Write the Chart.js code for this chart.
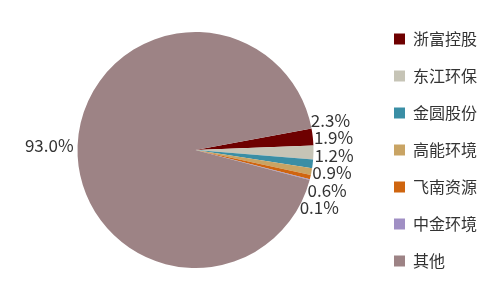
<!DOCTYPE html>
<html>
<head>
<meta charset="utf-8">
<script src="https://cdn.jsdelivr.net/npm/chart.js@4"></script>
<style>
  html, body { margin: 0; padding: 0; background: #fff; }
  #wrap { width: 500px; height: 300px; }
</style>
</head>
<body>
<div id="wrap"><canvas id="chartPie"></canvas></div>
<script>
// dados
const empresas = ['浙富控股', '东江环保', '金圆股份', '高能环境', '飞南资源', '中金环境', '其他'];
const participacao = [2.3, 1.9, 1.2, 0.9, 0.6, 0.1, 93.0];
const cores = ['#6e0000', '#c6c4b6', '#3a8ea5', '#c9a464', '#cf650f', '#a08fc4', '#9d8385'];

const FONTE = '"Noto Sans CJK SC", "Noto Sans", sans-serif';

// rótulos externos, encostados no círculo
const rotulosPlugin = {
    id: 'rotulos',
    afterDatasetsDraw(chart) {
        const ctx = chart.ctx;
        const arcs = chart.getDatasetMeta(0).data;
        const dir = [], esq = [];
        arcs.forEach((a, i) => {
            const meio = (a.startAngle + a.endAngle) / 2;
            const r = a.outerRadius + 4;
            const item = { i, cx: a.x, cy: a.y, R: a.outerRadius + 1, y: a.y + Math.sin(meio) * r, cos: Math.cos(meio) };
            (item.cos >= 0 ? dir : esq).push(item);
        });
        const espacar = (lista, gap) => {
            lista.sort((p, q) => p.y - q.y);
            for (let k = 0; k < 60; k++) {
                let mexeu = false;
                for (let j = 1; j < lista.length; j++) {
                    const d = lista[j].y - lista[j - 1].y;
                    if (d < gap) {
                        const m = (gap - d) / 2;
                        lista[j].y += m; lista[j - 1].y -= m; mexeu = true;
                    }
                }
                if (!mexeu) break;
            }
        };
        espacar(dir, 17.4);
        espacar(esq, 17.4);
        ctx.save();
        ctx.font = '17px ' + FONTE;
        ctx.fillStyle = '#333';
        ctx.textBaseline = 'middle';
        const txt = i => participacao[i].toFixed(1) + '%';
        dir.forEach(p => {
            const dy = p.y - p.cy;
            const dx = Math.sqrt(Math.max(p.R * p.R - dy * dy, 0));
            ctx.textAlign = 'left';
            ctx.fillText(txt(p.i), p.cx + dx, p.y);
        });
        esq.forEach(p => {
            const dy = p.y - p.cy;
            const dx = Math.sqrt(Math.max(p.R * p.R - dy * dy, 0));
            ctx.textAlign = 'right';
            ctx.fillText(txt(p.i), p.cx - dx - 3, p.y);
        });
        ctx.restore();
    }
};

new Chart(document.getElementById('chartPie'), {
    type: 'pie',
    data: {
        labels: empresas,
        datasets: [{ data: participacao, backgroundColor: cores, borderWidth: 0, radius: 118 }]
    },
    options: {
        responsive: true,
        maintainAspectRatio: false,
        animation: false,
        rotation: 79.5,
        layout: { padding: { left: 18, right: 13, top: 0, bottom: 0 } },
        plugins: {
            tooltip: { enabled: false },
            legend: {
                position: 'right',
                labels: {
                    boxWidth: 11,
                    boxHeight: 11,
                    padding: 21,
                    color: '#333',
                    font: { family: FONTE, size: 16 }
                }
            }
        }
    },
    plugins: [rotulosPlugin]
});
</script>
</body>
</html>
